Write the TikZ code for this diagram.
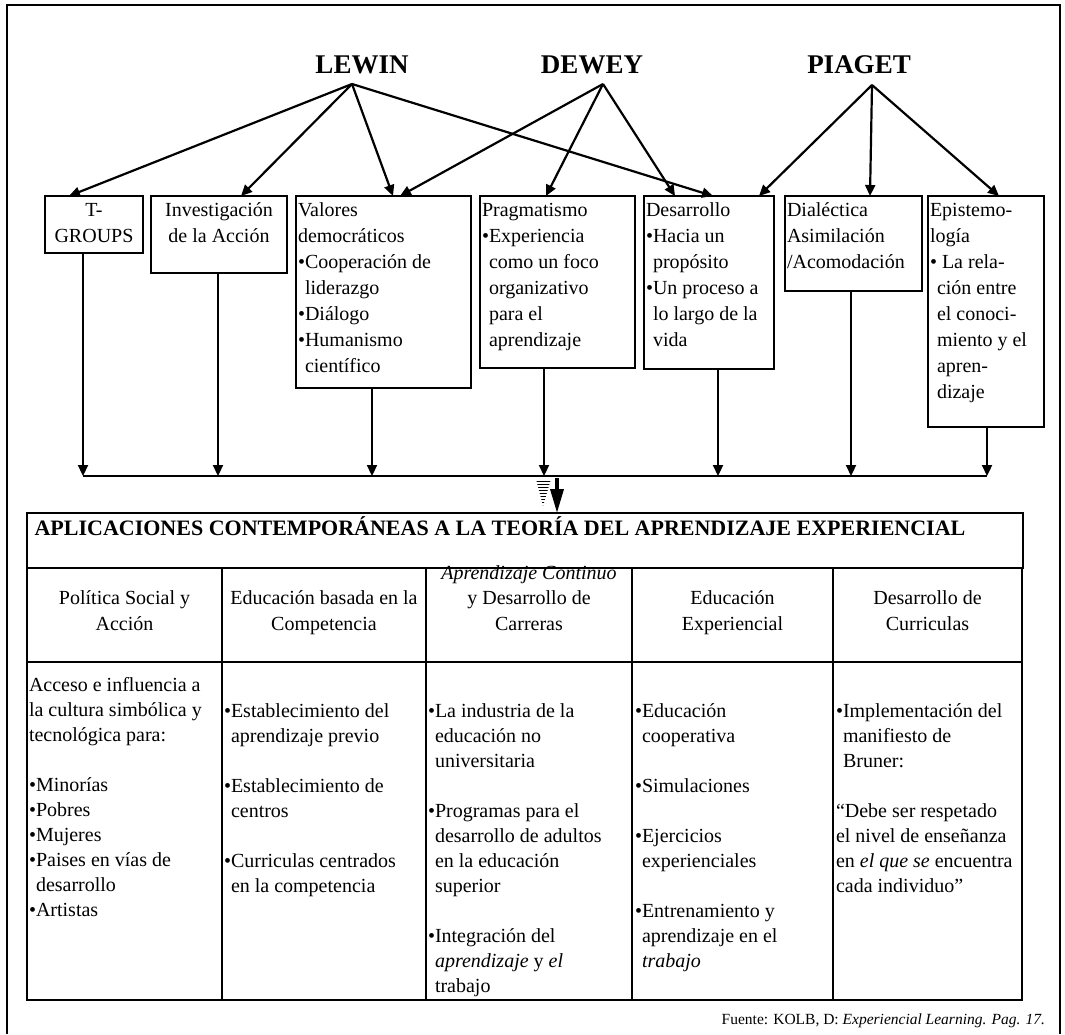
\documentclass[tikz,border=0pt]{standalone}
\usepackage{fontspec}
\setmainfont{Liberation Serif}
\usetikzlibrary{arrows.meta,patterns}
\newcommand\bsp{\phantom{•}}
\begin{document}
\begin{tikzpicture}[x=1pt,y=-1pt,
  every node/.style={inner sep=0pt,outer sep=0pt},
  boxx/.style={draw,line width=2pt,anchor=north west},
  btxt/.style={font=\fontsize{20}{26}\selectfont,align=left,anchor=base west},
  ctxt/.style={font=\fontsize{20}{26}\selectfont,align=center,anchor=base},
  htxt/.style={font=\fontsize{20}{25.5}\selectfont,align=center,anchor=base},
  body/.style={font=\fontsize{20}{25}\selectfont,align=left,anchor=base west},
  pname/.style={font=\fontsize{27}{30}\selectfont\bfseries},
  arr/.style={line width=2.2pt,-{Triangle[length=11pt,width=10pt]}},
  frame/.style={line width=2pt}]
\useasboundingbox (0,0) rectangle (1065,1034);
% outer frame
\draw[frame] (7,1034) -- (7,5) -- (1060,5) -- (1060,1034);
% names
\node[pname] (lewin) at (362,65) {LEWIN};
\node[pname] (dewey) at (592,65) {DEWEY};
\node[pname] (piaget) at (859,65) {PIAGET};
\coordinate (lwp) at (352,84);
\coordinate (dwp) at (603,84);
\coordinate (pgp) at (872,85);
% boxes
\node[boxx,minimum width=98pt,minimum height=57pt] (tg) at (45,196) {};
\node[boxx,minimum width=136pt,minimum height=77pt] (inv) at (151,196) {};
\node[boxx,minimum width=175pt,minimum height=192pt] (val) at (296,196) {};
\node[boxx,minimum width=155pt,minimum height=172pt] (prag) at (480,196) {};
\node[boxx,minimum width=130pt,minimum height=173pt] (des) at (644,196) {};
\node[boxx,minimum width=137pt,minimum height=95pt] (dia) at (785,196) {};
\node[boxx,minimum width=116pt,minimum height=231pt] (epi) at (928,196) {};
% box texts (anchor = baseline of last line)
\node[ctxt] (tgt) at (94,242) {T-\\GROUPS};
\node[ctxt] (invt) at (219,242) {Investigación\\de la Acción};
\node[btxt] (valt) at (298,372) {Valores\\democráticos\\•Cooperación de\\\bsp liderazgo\\•Diálogo\\•Humanismo\\\bsp científico};
\node[btxt] (pragt) at (482,346) {Pragmatismo\\•Experiencia\\\bsp como un foco\\\bsp organizativo\\\bsp para el\\\bsp aprendizaje};
\node[btxt] (dest) at (646,346) {Desarrollo\\•Hacia un\\\bsp propósito\\•Un proceso a\\\bsp lo largo de la\\\bsp vida};
\node[btxt] (diat) at (787,268) {Dialéctica\\Asimilación\\/Acomodación};
\node[btxt] (epit) at (930,398) {Epistemo-\\logía\\• La rela-\\\bsp ción entre\\\bsp el conoci-\\\bsp miento y el\\\bsp apren-\\\bsp dizaje};
% arrows from names
\draw[arr] (lwp) -- ([xshift=24pt]tg.north west);
\draw[arr] (lwp) -- ([xshift=90pt]inv.north west);
\draw[arr] (lwp) -- ([xshift=97pt]val.north west);
\draw[arr] (lwp) -- ([xshift=69pt]des.north west);
\draw[arr] (dwp) -- ([xshift=104pt]val.north west);
\draw[arr] (dwp) -- ([xshift=66pt]prag.north west);
\draw[arr] (dwp) -- ([xshift=31pt]des.north west);
\draw[arr] (pgp) -- ([xshift=115pt]des.north west);
\draw[arr] (pgp) -- ([xshift=85pt]dia.north west);
\draw[arr] (pgp) -- ([xshift=71pt]epi.north west);
% collector
\coordinate (c1) at (83,476);
\coordinate (c2) at (218,476);
\coordinate (c3) at (372,476);
\coordinate (c4) at (544,476);
\coordinate (c5) at (718,476);
\coordinate (c6) at (851,476);
\coordinate (c7) at (987,476);
\draw[frame] (c1) -- (c7);
\draw[arr] (tg.south -| c1) -- (c1);
\draw[arr] (inv.south -| c2) -- (c2);
\draw[arr] (val.south -| c3) -- (c3);
\draw[arr] (prag.south -| c4) -- (c4);
\draw[arr] (des.south -| c5) -- (c5);
\draw[arr] (dia.south -| c6) -- (c6);
\draw[arr] (epi.south -| c7) -- (c7);
% table
\node[boxx,minimum width=996pt,minimum height=55pt] (ttl) at (27,513) {};
\node[font=\fontsize{22}{25}\selectfont\bfseries] (ttlt) at (500,526) {APLICACIONES CONTEMPORÁNEAS A LA TEORÍA DEL APRENDIZAJE EXPERIENCIAL};
\coordinate (bh) at (557,478);
\fill[pattern=horizontal lines] (536,479) -- (551,479) -- (543,506) -- cycle;
\draw[line width=3.5pt,-{Triangle[length=24pt,width=13pt]}] (bh) -- (ttl.north -| bh);
\node[boxx,minimum width=195pt,minimum height=94pt] (hdA) at (27,568) {};
\node[boxx,minimum width=204pt,minimum height=94pt] (hdB) at (222,568) {};
\node[boxx,minimum width=206pt,minimum height=94pt] (hdC) at (426,568) {};
\node[boxx,minimum width=201pt,minimum height=94pt] (hdD) at (632,568) {};
\node[boxx,minimum width=189pt,minimum height=94pt] (hdE) at (833,568) {};
\node[boxx,minimum width=195pt,minimum height=338pt] (bdA) at (27,662) {};
\node[boxx,minimum width=204pt,minimum height=338pt] (bdB) at (222,662) {};
\node[boxx,minimum width=206pt,minimum height=338pt] (bdC) at (426,662) {};
\node[boxx,minimum width=201pt,minimum height=338pt] (bdD) at (632,662) {};
\node[boxx,minimum width=189pt,minimum height=338pt] (bdE) at (833,662) {};
% header texts
\node[htxt] (hdAt) at (124.5,630) {Política Social y\\Acción};
\node[htxt] (hdBt) at (324,630) {Educación basada en la\\Competencia};
\node[htxt] (hdCt) at (529,630) {\textit{Aprendizaje Continuo}\\y Desarrollo de\\Carreras};
\node[htxt] (hdDt) at (732.5,630) {Educación\\Experiencial};
\node[htxt] (hdEt) at (927.5,630) {Desarrollo de\\Curriculas};
% body texts
\node[body] (bdAt) at (29,916) {Acceso e influencia a\\la cultura simbólica y\\tecnológica para:\\[25pt]•Minorías\\•Pobres\\•Mujeres\\•Paises en vías de\\\bsp desarrollo\\•Artistas};
\node[body] (bdBt) at (224,892) {•Establecimiento del\\\bsp aprendizaje previo\\[25pt]•Establecimiento de\\\bsp centros\\[25pt]•Curriculas centrados\\\bsp en la competencia};
\node[body] (bdCt) at (428,992) {•La industria de la\\\bsp educación no\\\bsp universitaria\\[25pt]•Programas para el\\\bsp desarrollo de adultos\\\bsp en la educación\\\bsp superior\\[25pt]•Integración del\\\bsp \textit{aprendizaje} y \textit{el}\\\bsp trabajo};
\node[body] (bdDt) at (635,967) {•Educación\\\bsp cooperativa\\[25pt]•Simulaciones\\[25pt]•Ejercicios\\\bsp experienciales\\[25pt]•Entrenamiento y\\\bsp aprendizaje en el\\\bsp \textit{trabajo}};
\node[body] (bdEt) at (836,892) {•Implementación del\\\bsp manifiesto de\\\bsp Bruner:\\[25pt]“Debe ser respetado\\el nivel de enseñanza\\en \textit{el que se} encuentra\\cada individuo”};
% source
\node[font=\fontsize{15.5}{18}\selectfont,anchor=base east] (src) at (1045,1024) {Fuente: KOLB, D: \textit{Experiencial Learning. Pag. 17.}};
\end{tikzpicture}
\end{document}
